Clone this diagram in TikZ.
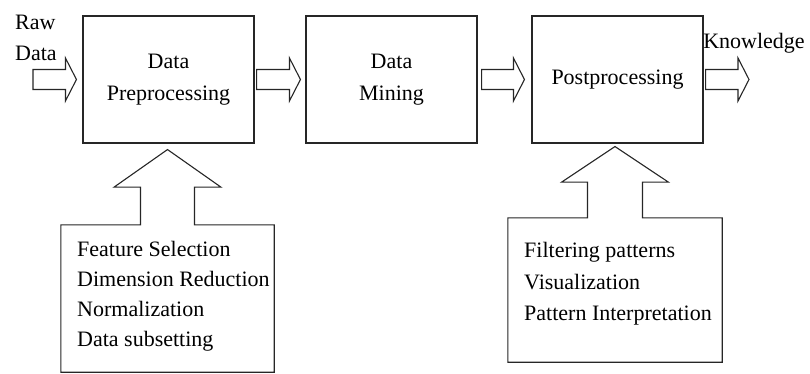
\documentclass[tikz,border=0pt]{standalone}
\usepackage{fontspec}
\setmainfont{Liberation Serif}
\usetikzlibrary{calc}
\begin{document}
\begin{tikzpicture}[x=1pt,y=-1pt,
  every node/.style={inner sep=0pt,font=\fontsize{22}{31.5}\selectfont},
  blk/.style={draw=black!85,line width=1.1pt,line join=miter,fill=white},
  stage/.style={draw=black!85,line width=1.1pt,minimum width=171pt,minimum height=127pt,align=center},
  listtext/.style={align=left,anchor=west}]
\useasboundingbox (0,0) rectangle (810,374);
\newcommand\harr[2]{\draw[blk] let \p1=(#1), \p2=(#2) in
  (\x1,\y1+10pt) -- (\x2-11pt,\y1+10pt) -- (\x2-11pt,\y1+21.5pt) -- (\x2,\y1)
  -- (\x2-11pt,\y1-21.5pt) -- (\x2-11pt,\y1-10pt) -- (\x1,\y1-10pt) -- cycle;}
% stage boxes
\node[stage] (b1) at (168.5,79.5) {Data\\Preprocessing};
\node[stage] (b2) at (391.5,79.5) {Data\\Mining};
\node[stage] (b3) at (617.5,79.5) {Postprocessing};
% side labels
\node[align=left,anchor=west] (raw) at (15,38) {Raw\\Data};
\node (know) at (754,43) {Knowledge};
% horizontal block arrows
\coordinate (rs) at (33,79.5);
\coordinate (rt) at ([xshift=-6pt]b1.west);
\coordinate (a1s) at ([xshift=2pt]b1.east);
\coordinate (a1t) at ([xshift=-5pt]b2.west);
\coordinate (a2s) at ([xshift=4pt]b2.east);
\coordinate (a2t) at ([xshift=-7pt]b3.west);
\coordinate (ks) at ([xshift=2pt]b3.east);
\coordinate (kt) at (749,79.5);
\harr{rs}{rt}
\harr{a1s}{a1t}
\harr{a2s}{a2t}
\harr{ks}{kt}
% lower boxes (shape only)
\node[minimum width=213pt,minimum height=147pt] (f1) at (167.5,298.5) {};
\node[minimum width=214pt,minimum height=144pt] (f2) at (615,290) {};
\coordinate (u1t) at ([yshift=-6pt]b1.south);
\coordinate (u2t) at ([yshift=-3pt]b3.south);
\draw[blk] let \p1=(f1.north), \p2=(u1t) in
  (f1.north west) -- (\x1-27pt,\y1) -- (\x1-27pt,{(\y1+\y2)/2}) -- (\x1-53.5pt,{(\y1+\y2)/2})
  -- (\x1,\y2) -- (\x1+53.5pt,{(\y1+\y2)/2}) -- (\x1+27pt,{(\y1+\y2)/2}) -- (\x1+27pt,\y1)
  -- (f1.north east) -- (f1.south east) -- (f1.south west) -- cycle;
\draw[blk] let \p1=(f2.north), \p2=(u2t) in
  (f2.north west) -- (\x1-27.5pt,\y1) -- (\x1-27.5pt,{(\y1+\y2)/2}) -- (\x1-53.5pt,{(\y1+\y2)/2})
  -- (\x1,\y2) -- (\x1+53.5pt,{(\y1+\y2)/2}) -- (\x1+27.5pt,{(\y1+\y2)/2}) -- (\x1+27.5pt,\y1)
  -- (f2.north east) -- (f2.south east) -- (f2.south west) -- cycle;
% list texts
\node[listtext,font=\fontsize{22}{30}\selectfont] (t1) at (77,296) {Feature Selection\\Dimension Reduction\\Normalization\\Data subsetting};
\node[listtext] (t2) at (524,284) {Filtering patterns\\Visualization\\Pattern Interpretation};
\end{tikzpicture}
\end{document}
